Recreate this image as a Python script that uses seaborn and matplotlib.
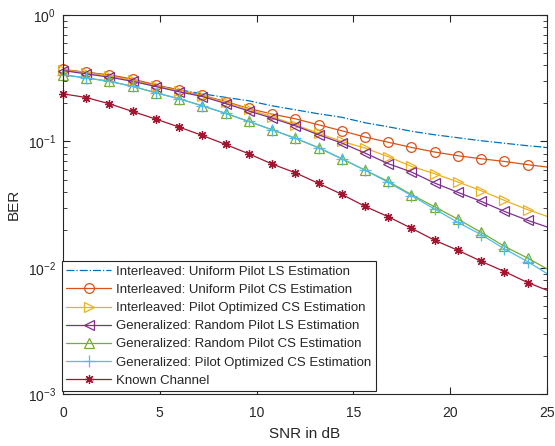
""" BER vs SNR for the pilot / channel estimation schemes """

import numpy as np
import pandas as pd
import matplotlib
matplotlib.use("Agg")
import matplotlib.pyplot as plt
import seaborn as sns
from matplotlib.ticker import LogLocator, NullFormatter, FixedLocator


# SNR grid: markers every 1.2 dB up to 24, line runs on to 25 dB
snr = [0, 1.2, 2.4, 3.6, 4.8, 6.0, 7.2, 8.4, 9.6, 10.8, 12.0, 13.2, 14.4,
       15.6, 16.8, 18.0, 19.2, 20.4, 21.6, 22.8, 24.0, 25.0]

ber_int_uniform_ls = [0.368, 0.352, 0.333, 0.307, 0.278, 0.256, 0.238, 0.223,
                      0.2096, 0.1913, 0.1779, 0.1654, 0.1552, 0.1405, 0.1306,
                      0.1204, 0.1129, 0.1070, 0.1013, 0.0968, 0.0925, 0.0897]
ber_int_uniform_cs = [0.3715, 0.3517, 0.336, 0.311, 0.2803, 0.2535, 0.2315,
                      0.2069, 0.1822, 0.1646, 0.1511, 0.1354, 0.1215, 0.1083,
                      0.0986, 0.0897, 0.0825, 0.0771, 0.0730, 0.0695, 0.0655,
                      0.0628]
ber_int_opt_cs = [0.368, 0.3484, 0.330, 0.304, 0.2752, 0.2513, 0.2294, 0.2039,
                  0.1795, 0.1567, 0.1354, 0.1161, 0.100, 0.0887, 0.0757,
                  0.0635, 0.0556, 0.0478, 0.0408, 0.0342, 0.0289, 0.0256]
ber_gen_random_ls = [0.3634, 0.3422, 0.3223, 0.2986, 0.2717, 0.2468, 0.2266,
                     0.1995, 0.1741, 0.1530, 0.1330, 0.1129, 0.0971, 0.0810,
                     0.0667, 0.0573, 0.0469, 0.0396, 0.0336, 0.0280, 0.0238,
                     0.0211]
ber_gen_random_cs = [0.336, 0.318, 0.2986, 0.2727, 0.2423, 0.2173, 0.1913,
                     0.1669, 0.1438, 0.1237, 0.1060, 0.0892, 0.0730, 0.0593,
                     0.0483, 0.0380, 0.0304, 0.0243, 0.0191, 0.01484, 0.01197,
                     0.00984]
ber_gen_opt_cs = [0.336, 0.318, 0.2986, 0.2727, 0.2423, 0.2173, 0.1913,
                  0.1669, 0.1438, 0.1237, 0.1060, 0.0892, 0.0730, 0.0593,
                  0.0475, 0.0373, 0.0292, 0.0229, 0.01835, 0.01415, 0.01123,
                  0.00903]
ber_known = [0.238, 0.2225, 0.1984, 0.1725, 0.1502, 0.1299, 0.1115, 0.0947,
             0.0799, 0.0663, 0.0566, 0.0466, 0.0382, 0.0307, 0.0254, 0.0206,
             0.01654, 0.01379, 0.01129, 0.00937, 0.00767, 0.00667]

labels = ["Interleaved: Uniform Pilot LS Estimation",
          "Interleaved: Uniform Pilot CS Estimation",
          "Interleaved: Pilot Optimized CS Estimation",
          "Generalized: Random Pilot LS Estimation",
          "Generalized: Random Pilot CS Estimation",
          "Generalized: Pilot Optimized CS Estimation",
          "Known Channel"]
series = [ber_int_uniform_ls, ber_int_uniform_cs, ber_int_opt_cs,
          ber_gen_random_ls, ber_gen_random_cs, ber_gen_opt_cs, ber_known]

# matlab default colour order
colors = ["#0072BD", "#D95319", "#EDB120", "#7E2F8E", "#77AC30", "#4DBEEE",
          "#A2142F"]
# (8, 2, 0) is an 8 armed asterisk like matlab's '*'
markers = [None, "o", ">", "<", "^", "+", (8, 2, 0)]
msizes = [0, 7, 7.5, 7.5, 7.5, 8, 6.5]
styles = ["-.", "-", "-", "-", "-", "-", "-"]

sns.set_style("ticks")
plt.rcParams['font.family'] = ['Liberation Sans', 'DejaVu Sans']

fig = plt.figure(figsize=(5.55, 4.46), dpi=100)
ax = fig.add_axes([0.1135, 0.1155, 0.8721, 0.851])

df = pd.DataFrame({"snr": snr})
for i in range(len(series)):
    df["y"] = series[i]
    kws = dict(color=colors[i], linestyle=styles[i], linewidth=0.9,
               clip_on=False)
    if markers[i] is not None:
        kws.update(marker=markers[i], markevery=slice(0, 21),
                   markersize=msizes[i], markerfacecolor="none",
                   markeredgecolor=colors[i], markeredgewidth=0.9)
    sns.lineplot(data=df, x="snr", y="y", ax=ax, estimator=None, sort=False,
                 label=labels[i], **kws)

ax.set_yscale("log")
ax.set_xlim(0, 25)
ax.set_ylim(1e-3, 1)
ax.xaxis.set_major_locator(FixedLocator([0, 5, 10, 15, 20, 25]))
ax.yaxis.set_major_locator(LogLocator(base=10, numticks=10))
ax.yaxis.set_minor_locator(LogLocator(base=10, subs=np.arange(2, 10), numticks=10))
ax.yaxis.set_minor_formatter(NullFormatter())
ax.tick_params(which="both", direction="in", top=True, right=True,
               labelsize=10, color="#262626", labelcolor="#262626")
ax.tick_params(which="major", length=5, width=0.8)
ax.tick_params(which="minor", length=3, width=0.6)
ax.tick_params(axis="x", pad=8)
ax.tick_params(axis="y", pad=5)
for s in ax.spines.values():
    s.set_linewidth(0.8)
    s.set_color("#262626")

ax.set_xlabel("SNR in dB", fontsize=11, color="#262626", labelpad=5)
ax.set_ylabel("BER", fontsize=11, color="#262626", labelpad=5)

leg = ax.legend(loc="lower left", bbox_to_anchor=(-0.003, 0.008),
                fontsize=9.5, frameon=True, fancybox=False,
                edgecolor="#262626", framealpha=1, borderaxespad=0,
                handlelength=3.4, handletextpad=0.4, labelspacing=0.45,
                borderpad=0.35)
leg.get_frame().set_linewidth(0.8)
leg.set_zorder(5)

fig.savefig("out.png", dpi=100)
